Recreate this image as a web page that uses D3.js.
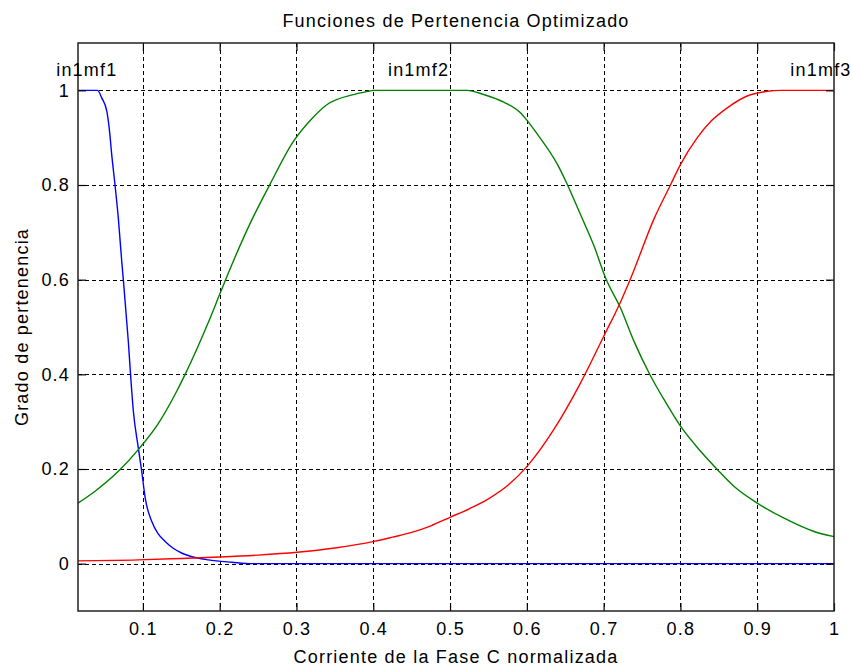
<!DOCTYPE html>
<html>
<head>
<meta charset="utf-8">
<script src="https://cdn.jsdelivr.net/npm/d3@7"></script>
<style>
  body { margin: 0; background: #fff; }
  svg { display: block; font-family: "Liberation Sans", Arial, sans-serif; }
  .grid line { stroke: #000; stroke-width: 1; stroke-dasharray: 4,3; }
  .tick text { font-size: 18px; letter-spacing: 1.2px; fill: #000; }
  .lbl { font-size: 18px; letter-spacing: 1.2px; fill: #000; }
</style>
</head>
<body>
<svg id="chart" width="852" height="666"></svg>
<script>
// membership functions, [x, grade]
const in1mf1 = [
  [0.0155, 1], [0.041, 1], [0.0464, 0.984], [0.053, 0.956], [0.057, 0.907], [0.059, 0.871],
  [0.0637, 0.80], [0.068, 0.73], [0.0725, 0.638], [0.0746, 0.599], [0.079, 0.51],
  [0.081, 0.47], [0.0835, 0.41], [0.0876, 0.322], [0.094, 0.245], [0.0985, 0.195],
  [0.103, 0.139], [0.1116, 0.089], [0.12, 0.063], [0.129, 0.047], [0.14, 0.032],
  [0.151, 0.022], [0.168, 0.013], [0.185, 0.008], [0.216, 0.003], [0.242, 0], [1, 0]
]
const in1mf2 = [
  [0.0155, 0.128], [0.0377, 0.153], [0.068, 0.195], [0.094, 0.241], [0.120, 0.296],
  [0.142, 0.358], [0.155, 0.40], [0.172, 0.46], [0.185, 0.509], [0.200, 0.569],
  [0.209, 0.605], [0.240, 0.72], [0.266, 0.803], [0.296, 0.892], [0.320, 0.94],
  [0.340, 0.970], [0.374, 0.991], [0.394, 0.998], [0.40, 1], [0.522, 1],
  [0.544, 0.991], [0.570, 0.975], [0.592, 0.952], [0.600, 0.937], [0.613, 0.909],
  [0.640, 0.843], [0.653, 0.80], [0.670, 0.737], [0.687, 0.673], [0.703, 0.602],
  [0.722, 0.540], [0.740, 0.468], [0.761, 0.397], [0.783, 0.335], [0.799, 0.293],
  [0.826, 0.238], [0.848, 0.199], [0.870, 0.163], [0.900, 0.128], [0.935, 0.096],
  [0.974, 0.068], [1.0, 0.057]
]
const in1mf3 = [
  [0.0155, 0.006], [0.094, 0.008], [0.150, 0.011], [0.200, 0.014], [0.250, 0.018],
  [0.301, 0.024], [0.350, 0.033], [0.401, 0.047], [0.425, 0.056], [0.450, 0.066],
  [0.475, 0.080], [0.500, 0.098], [0.525, 0.116], [0.550, 0.137], [0.575, 0.165],
  [0.600, 0.205], [0.635, 0.283], [0.670, 0.382], [0.700, 0.480], [0.722, 0.553],
  [0.735, 0.602], [0.766, 0.73], [0.787, 0.80], [0.800, 0.843], [0.822, 0.90],
  [0.840, 0.935], [0.861, 0.963], [0.887, 0.988], [0.913, 0.998], [0.93, 1], [1, 1]
]
const mfNames = ["in1mf1", "in1mf2", "in1mf3"]
const mfLabelX = [0.027, 0.459, 0.983]
const mfColors = ["#0000ff", "#008000", "#ff0000"]
const xTicks = [0.1, 0.2, 0.3, 0.4, 0.5, 0.6, 0.7, 0.8, 0.9, 1]
const yTicks = [0, 0.2, 0.4, 0.6, 0.8, 1]

const plot = {left: 78, top: 43, right: 834, bottom: 611}
const svg = d3.select("#chart")

const x = d3.scaleLinear().domain([0.0155, 1]).range([plot.left, plot.right])
const y = d3.scaleLinear().domain([-0.1, 1.1]).range([plot.bottom, plot.top])
const w = plot.right - plot.left
const h = plot.bottom - plot.top

// grid
const grid = svg.append("g").attr("class", "grid")
grid.selectAll(".gx").data(xTicks.filter(d => d < 1)).join("line")
  .attr("x1", d => Math.round(x(d)) + 0.5).attr("x2", d => Math.round(x(d)) + 0.5)
  .attr("y1", plot.top).attr("y2", plot.bottom)
grid.selectAll(".gy").data(yTicks).join("line")
  .attr("y1", d => Math.round(y(d)) + 0.5).attr("y2", d => Math.round(y(d)) + 0.5)
  .attr("x1", plot.left).attr("x2", plot.right)

// curves
const line = d3.line().x(d => x(d[0])).y(d => y(d[1])).curve(d3.curveMonotoneX)
const series = [in1mf1, in1mf2, in1mf3]
svg.append("g").selectAll("path").data(series).join("path")
  .attr("d", line)
  .attr("fill", "none")
  .attr("stroke", (d, i) => mfColors[i])
  .attr("stroke-width", 1.4)

// axes (matlab style, ticks inward)
const tickLen = 8
svg.append("g").attr("transform", `translate(0,${plot.bottom})`)
  .call(d3.axisBottom(x).tickValues(xTicks).tickSize(-tickLen).tickPadding(11).tickFormat(d3.format("")))
  .call(g => g.select(".domain").remove())
svg.append("g").attr("transform", `translate(0,${plot.top})`)
  .call(d3.axisTop(x).tickValues(xTicks).tickSize(-tickLen).tickFormat(""))
  .call(g => g.select(".domain").remove())
svg.append("g").attr("transform", `translate(${plot.left},0)`)
  .call(d3.axisLeft(y).tickValues(yTicks).tickSize(-tickLen).tickPadding(8).tickFormat(d3.format("")))
  .call(g => g.select(".domain").remove())
svg.append("g").attr("transform", `translate(${plot.right},0)`)
  .call(d3.axisRight(y).tickValues(yTicks).tickSize(-tickLen).tickFormat(""))
  .call(g => g.select(".domain").remove())
svg.selectAll(".tick line").attr("stroke", "#000").attr("stroke-width", 1.2)
svg.selectAll(".tick text").attr("font-size", null).attr("font-family", null)

svg.append("rect")
  .attr("x", plot.left).attr("y", plot.top).attr("width", w).attr("height", h)
  .attr("fill", "none").attr("stroke", "#222").attr("stroke-width", 1.5)

// mf labels
svg.append("g").selectAll("text").data(mfNames).join("text")
  .attr("class", "lbl")
  .attr("x", (d, i) => x(mfLabelX[i]))
  .attr("y", y(1.03))
  .attr("text-anchor", "middle")
  .text(d => d)

// titles
svg.append("text").attr("class", "lbl").attr("x", (plot.left + plot.right) / 2).attr("y", 27)
  .attr("text-anchor", "middle")
  .text("Funciones de Pertenencia Optimizado")
svg.append("text").attr("class", "lbl").attr("x", (plot.left + plot.right) / 2).attr("y", 663)
  .attr("text-anchor", "middle")
  .text("Corriente de la Fase C normalizada")
svg.append("text").attr("class", "lbl")
  .attr("transform", `translate(28,${(plot.top + plot.bottom) / 2}) rotate(-90)`)
  .attr("text-anchor", "middle")
  .text("Grado de pertenencia")
</script>
</body>
</html>
